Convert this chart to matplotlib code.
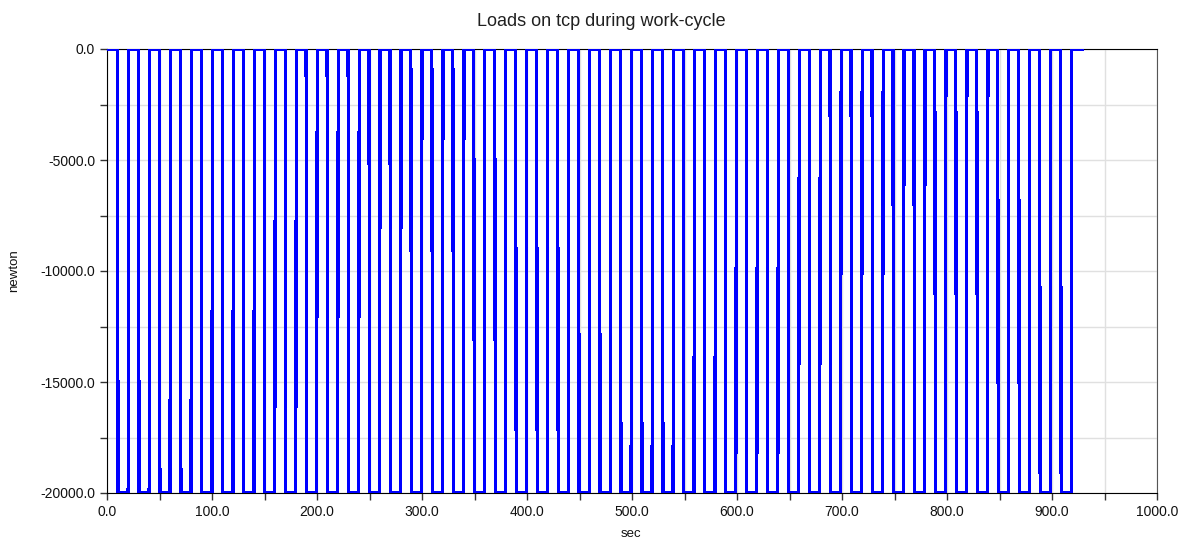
import numpy as np
import matplotlib
matplotlib.use("Agg")
import matplotlib.pyplot as plt
from matplotlib.ticker import MultipleLocator, FormatStrFormatter

# edge times (sec)
fall_t = [10.0, 30.0, 49.9, 69.9, 89.8, 109.8, 129.8, 149.7, 169.7, 189.6,
          209.6, 229.6, 249.5, 269.5, 289.4, 309.4, 329.4, 349.3, 369.3, 389.2,
          409.2, 429.2, 449.1, 469.1, 489.0, 509.0, 529.0, 548.9, 568.9, 588.8,
          608.8, 628.8, 648.7, 668.7, 688.6, 708.6, 728.6, 748.5, 768.5, 788.4,
          808.4, 828.4, 848.3, 868.3, 888.2, 908.2]
rise_t = [20.1, 40.1, 60.0, 80.0, 99.9, 119.9, 139.9, 159.8, 179.8, 199.7,
          219.7, 239.7, 259.6, 279.6, 299.5, 319.5, 339.5, 359.4, 379.4, 399.3,
          419.3, 439.3, 459.2, 479.2, 499.1, 519.1, 539.1, 559.0, 579.0, 598.9,
          618.9, 638.9, 658.8, 678.8, 698.7, 718.7, 738.7, 758.6, 778.6, 798.5,
          818.5, 838.5, 858.4, 878.4, 898.3, 918.3]
high_load = 0.0
low_load = -20000.0
t_end = 929.4
edge_dt = 0.5   # sample step across each switch

t = [0.0]
f = [high_load]
for a, b in zip(fall_t, rise_t):
    t += [a, a + edge_dt, b, b + edge_dt]
    f += [high_load, low_load, low_load, high_load]
t.append(t_end)
f.append(high_load)

fig = plt.figure(figsize=(11.85, 5.4), dpi=100)
ax = fig.add_axes([107/1185, 47/540, 1050/1185, 444/540])

ax.plot(t, f, color="#0000ff", lw=1.6, antialiased=False, zorder=3,
        solid_joinstyle="miter")

ax.set_xlim(0, 1000)
ax.set_ylim(-20000, 0)
ax.xaxis.set_major_locator(MultipleLocator(100))
ax.xaxis.set_minor_locator(MultipleLocator(50))
ax.yaxis.set_major_locator(MultipleLocator(5000))
ax.yaxis.set_minor_locator(MultipleLocator(2500))
ax.xaxis.set_major_formatter(FormatStrFormatter("%.1f"))
ax.yaxis.set_major_formatter(FormatStrFormatter("%.1f"))
ax.grid(True, which="both", color="#e0e0e0", lw=1.0, zorder=0)
ax.set_axisbelow(True)

ax.tick_params(which="both", direction="out", length=5, width=1, color="#333333",
               labelsize=10, labelcolor="#111111")
for lab in ax.get_xticklabels() + ax.get_yticklabels():
    lab.set_family("Liberation Sans")

for s in ["left", "bottom", "top"]:
    ax.spines[s].set_color("#000000")
ax.spines["right"].set_color("#555555")

fig.text(601/1185, 1 - 22/540, "Loads on tcp during work-cycle", ha="center",
         va="center", fontsize=13, family="Liberation Sans", color="#202020")
fig.text(631/1185, 1 - 534/540, "sec", ha="center", va="center", fontsize=9.5,
         family="Liberation Sans", color="#111111")
fig.text(14/1185, 1 - 271/540, "newton", ha="center", va="center", rotation=90,
         fontsize=9.5, family="Liberation Sans", color="#111111")

fig.savefig("out.png", dpi=100)
